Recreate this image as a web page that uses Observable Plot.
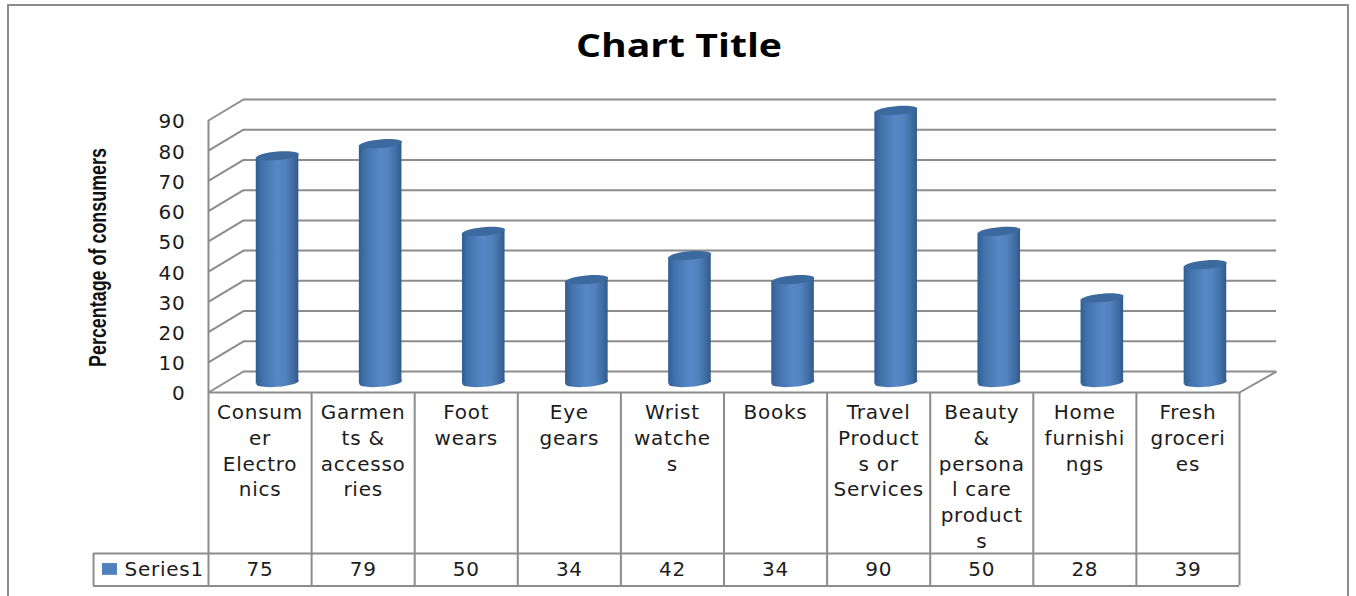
<!DOCTYPE html>
<html>
<head>
<meta charset="utf-8">
<script src="https://cdn.jsdelivr.net/npm/d3@7"></script>
<script src="https://cdn.jsdelivr.net/npm/@observablehq/plot@0.6"></script>
<style>
  html, body { margin: 0; padding: 0; background: #fff; overflow: hidden; }
  #chart { position: relative; width: 1356px; height: 596px; }
  #chart svg { position: absolute; left: 0; top: 0; background: transparent; }
  #border { position: absolute; left: 7px; top: 4px; width: 1338px; height: 600px; border: 2px solid #8c8c8c; }
</style>
</head>
<body>
<div id="chart"><div id="border"></div></div>
<script>
const categories = ["Consumer Electronics", "Garments & accessories", "Foot wears", "Eye gears", "Wrist watches",
  "Books", "Travel Products or Services", "Beauty & personal care products", "Home furnishings", "Fresh groceries"];
const wrappedLabels = ["Consum\ner\nElectro\nnics", "Garmen\nts &\naccesso\nries", "Foot\nwears", "Eye\ngears", "Wrist\nwatche\ns",
  "Books", "Travel\nProduct\ns or\nServices", "Beauty\n&\npersona\nl care\nproduct\ns", "Home\nfurnishi\nngs", "Fresh\ngroceri\nes"];
const values = [75, 79, 50, 34, 42, 34, 90, 50, 28, 39];
const yTicks = [0, 10, 20, 30, 40, 50, 60, 70, 80, 90];
const seriesName = "Series1";

const rows = categories.map((category, i) => ({
  category, label: wrappedLabels[i], value: values[i], mid: i + 0.5
}));
const columnEdges = d3.range(categories.length + 1);

// Extent of the data table and the 3D depth of the chart box, in scale units.
const legendLeft = -1.115, rowSplit = -53.3, tableBottom = -64, rowMiddle = -58.6;
const depthX = 0.3395, depthY = 6.95;
const barWidth = 0.413, endTilt = 0.62;
const gridColor = "#8c8c8c", textColor = "#1c1c1c";
const textFont = "DejaVu Sans";

// Cylinder outline: both ends rise to the right, the centre sits on the value.
const bodyPoints = rows.flatMap(d => [-1, 0, 1].map(s => ({
  category: d.category,
  x: d.mid + s * barWidth / 2,
  base: s * endTilt,
  top: d.value + s * endTilt
})));

// Flat, slightly tilted ellipse used for the ends of each cylinder.
const tiltedEllipse = {
  draw(context, size) {
    const a = Math.sqrt(size / Math.PI), b = a * 0.2, t = -5 * Math.PI / 180, k = 0.5523;
    const p = (u, v) => [u * a * Math.cos(t) - v * b * Math.sin(t), u * a * Math.sin(t) + v * b * Math.cos(t)];
    context.moveTo(...p(1, 0));
    context.bezierCurveTo(...p(1, k), ...p(k, 1), ...p(0, 1));
    context.bezierCurveTo(...p(-k, 1), ...p(-1, k), ...p(-1, 0));
    context.bezierCurveTo(...p(-1, -k), ...p(-k, -1), ...p(0, -1));
    context.bezierCurveTo(...p(k, -1), ...p(1, -k), ...p(1, 0));
    context.closePath();
  }
};

// Horizontal shading across the cylinder body.
const shading = () => {
  const defs = d3.create("svg:defs");
  const gradient = defs.append("linearGradient").attr("id", "cylinder").attr("x1", 0).attr("x2", 1).attr("y1", 0).attr("y2", 0);
  [[0, "#315e92"], [0.15, "#4272ab"], [0.5, "#5788c6"], [0.7, "#5181be"], [0.9, "#3d6a9f"], [1, "#315a88"]]
    .forEach(([o, c]) => gradient.append("stop").attr("offset", o).attr("stop-color", c));
  return defs.node();
};

// Fits a single line of text to a fixed length by stretching its glyphs.
const fitTo = length => (index, scales, channels, dimensions, context, next) => {
  const g = next(index, scales, channels, dimensions, context);
  d3.select(g).style("letter-spacing", "0").selectAll("text")
    .attr("textLength", length).attr("lengthAdjust", "spacingAndGlyphs");
  return g;
};

const barShift = { dx: 17.5, dy: -10 };

const plot = Plot.plot({
  width: 1356,
  height: 596,
  marginLeft: 208,
  marginRight: 117,
  marginTop: 120,
  marginBottom: 204,
  x: { domain: [0, 10], axis: null },
  y: { domain: [0, 90], axis: null },
  style: { background: "transparent", fontFamily: textFont, letterSpacing: "0.75px" },
  marks: [
    shading,
    // Back wall gridlines, left wall diagonals and the floor
    Plot.ruleY(yTicks, { x1: 0, x2: 10.02, dx: 35, dy: -21, stroke: gridColor, strokeWidth: 2, strokeOpacity: 1 }),
    Plot.link(yTicks, { x1: 0, y1: d => d, x2: depthX, y2: d => d + depthY, stroke: gridColor, strokeWidth: 2 }),
    Plot.ruleX([0], { y1: 0, y2: 90, stroke: gridColor, strokeWidth: 2 }),
    Plot.link([0], { x1: 10, y1: 0, x2: 10.36, y2: depthY, stroke: gridColor, strokeWidth: 2 }),

    // Data table grid
    Plot.ruleX(columnEdges, { y1: tableBottom, y2: 0, stroke: gridColor, strokeWidth: 2 }),
    Plot.ruleY([0], { x1: 0, x2: 10, stroke: gridColor, strokeWidth: 2 }),
    Plot.ruleY([rowSplit, tableBottom], { x1: legendLeft, x2: 10, stroke: gridColor, strokeWidth: 2 }),
    Plot.ruleX([legendLeft], { y1: rowSplit, y2: tableBottom, stroke: gridColor, strokeWidth: 2 }),

    // Cylinders: bottom end, body, top end
    Plot.dot(rows, { x: "mid", y: () => 0, r: 21.3, symbol: tiltedEllipse, fill: "url(#cylinder)", stroke: "none", ...barShift }),
    Plot.areaY(bodyPoints, { x: "x", y1: "base", y2: "top", z: "category", fill: "url(#cylinder)", ...barShift }),
    Plot.dot(rows, { x: "mid", y: "value", r: 21.3, symbol: tiltedEllipse, fill: "#3d6a9e", stroke: "none", ...barShift }),

    // Value axis and titles
    Plot.axisY(yTicks, { anchor: "left", tickSize: 0, tickPadding: 23, label: null, fontSize: 20, dy: 1.5, fill: textColor }),
    Plot.text(["Percentage of consumers"], {
      frameAnchor: "left", textAnchor: "middle", dx: -110, dy: 1, rotate: -90, fontSize: 24, fontWeight: "bold",
      fontFamily: "Liberation Sans", fill: "#111", render: fitTo(219)
    }),
    Plot.text(["Chart Title"], {
      frameAnchor: "top", dx: -45, dy: -87, fontSize: 33, fontWeight: "bold",
      fontFamily: "Open Sans", fill: "#000", render: fitTo(206)
    }),

    // Data table contents
    Plot.text(rows, {
      x: "mid", text: "label", frameAnchor: "bottom", lineAnchor: "top", dy: 8.5,
      lineHeight: 1.285, fontSize: 20, fill: textColor
    }),
    Plot.text(rows, { x: "mid", y: () => rowMiddle, text: d => String(d.value), fontSize: 20, fill: textColor }),
    Plot.rect([seriesName], { x1: () => -1.028, x2: () => -0.883, y1: () => -56.6, y2: () => -60.5, fill: "#4f81bd" }),
    Plot.text([seriesName], { x: () => -0.815, y: () => rowMiddle, textAnchor: "start", fontSize: 20, letterSpacing: 0, fill: textColor })
  ]
});
document.getElementById("chart").append(plot);
</script>
</body>
</html>
